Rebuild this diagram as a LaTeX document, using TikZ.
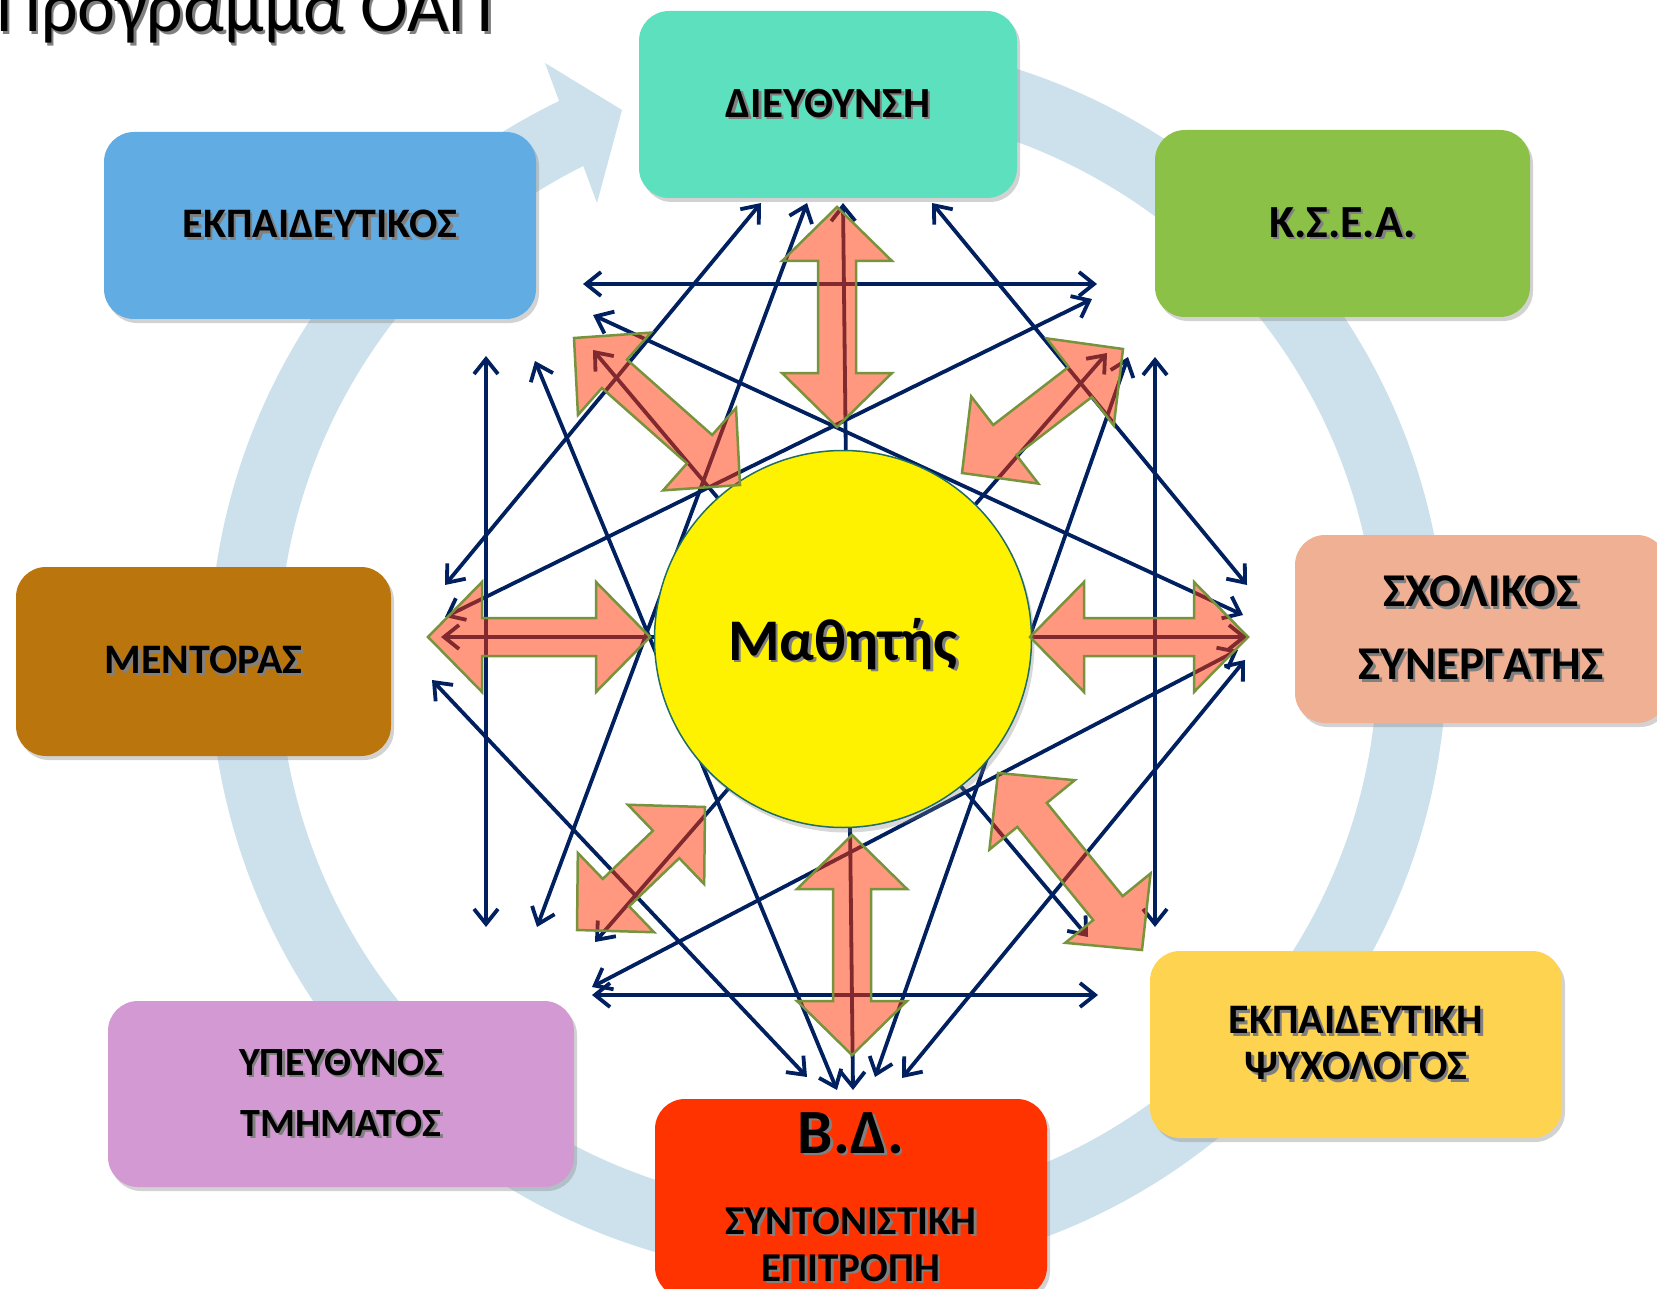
\documentclass[tikz,border=0pt]{standalone}
\usepackage{fontspec}
\setmainfont{Carlito}
\usetikzlibrary{calc,arrows.meta,shadows}
\definecolor{navy}{RGB}{0,32,96}
\definecolor{ringc}{RGB}{205,225,236}
\definecolor{salfill}{RGB}{255,50,0}
\definecolor{olivec}{RGB}{119,147,60}
\definecolor{circedge}{RGB}{30,110,100}
\definecolor{cDir}{RGB}{93,224,189}
\definecolor{cTeach}{RGB}{97,172,226}
\definecolor{cKsea}{RGB}{140,193,72}
\definecolor{cSchool}{RGB}{240,176,148}
\definecolor{cPsy}{RGB}{254,211,79}
\definecolor{cBD}{RGB}{255,51,0}
\definecolor{cResp}{RGB}{210,153,210}
\definecolor{cMent}{RGB}{186,117,12}
\newcommand\tsh[1]{\leavevmode\rlap{\kern2.5pt\raisebox{-2.5pt}{\color{black!50}#1}}#1}
\newcommand\dblarrow[2]{%
  \coordinate (ha) at ($(#1)!54pt!(#2)$);
  \coordinate (hb) at ($(#2)!54pt!(#1)$);
  \path[salarrow] (#1) -- ($(ha)!55pt!90:(#2)$) -- ($(ha)!19pt!90:(#2)$)
    -- ($(hb)!19pt!-90:(#1)$) -- ($(hb)!55pt!-90:(#1)$) -- (#2)
    -- ($(hb)!55pt!90:(#1)$) -- ($(hb)!19pt!90:(#1)$)
    -- ($(ha)!19pt!-90:(#2)$) -- ($(ha)!55pt!-90:(#2)$) -- cycle;}
\begin{document}
\begin{tikzpicture}[x=1pt,y=-1pt,
  box/.style={rectangle, rounded corners=30pt, inner sep=0pt, align=center,
    text=black, drop shadow={shadow xshift=3pt,shadow yshift=-4pt,opacity=0.35}},
  link/.style={draw=navy, line width=3.8pt,
    {Straight Barb[length=15pt,width=24pt]}-{Straight Barb[length=15pt,width=24pt]}},
  salarrow/.style={fill=salfill, fill opacity=0.5, draw=olivec, draw opacity=1,
    line width=2.5pt, line join=miter}]
\useasboundingbox (0,0) rectangle (1657,1289);
\fill[white] (0,0) rectangle (1657,1289);

% big circular arrow
\coordinate (rc) at (828,658);
\draw[ringc, line width=69pt] ([shift={(-100:584)}]rc) arc[start angle=-100, end angle=246, radius=584];
\coordinate (rh1) at (545,63);
\coordinate (rh2) at (622,110);
\coordinate (rh3) at (597,203);
\fill[ringc] (rh1) -- (rh2) -- (rh3) -- cycle;

% title
\node[anchor=base west, inner sep=0pt, font=\fontsize{72}{72}\selectfont] (title) at (-4,32) {\tsh{Πρόγραμμα ΟΑΠ}};

% boxes
\node[box, fill=cDir, minimum width=378pt, minimum height=187pt, font=\fontsize{43}{48}\selectfont\bfseries] (dir) at (828,104.5) {\tsh{ΔΙΕΥΘΥΝΣΗ}};
\node[box, fill=cTeach, minimum width=432pt, minimum height=187pt, font=\fontsize{42}{48}\selectfont\bfseries] (teach) at (320,225.5) {\tsh{ΕΚΠΑΙΔΕΥΤΙΚΟΣ}};
\node[box, fill=cKsea, minimum width=375pt, minimum height=187pt, font=\fontsize{46}{50}\selectfont\bfseries] (ksea) at (1342.5,223.5) {\tsh{Κ.Σ.Ε.Α.}};
\node[box, fill=cSchool, minimum width=372pt, minimum height=188pt, font=\fontsize{47}{73}\selectfont\bfseries] (school) at (1481,629) {\tsh{ΣΧΟΛΙΚΟΣ}\\\tsh{ΣΥΝΕΡΓΑΤΗΣ}};
\node[box, fill=cPsy, minimum width=412pt, minimum height=187pt, font=\fontsize{42}{46}\selectfont\bfseries] (psy) at (1356,1044.5) {\tsh{ΕΚΠΑΙΔΕΥΤΙΚΗ}\\\tsh{ΨΥΧΟΛΟΓΟΣ}};
\node[box, fill=cBD, minimum width=392pt, minimum height=198pt, font=\fontsize{41}{47}\selectfont\bfseries] (bd) at (851,1198) {{\fontsize{63}{63}\selectfont\tsh{Β.Δ.}}\\[34pt]\tsh{ΣΥΝΤΟΝΙΣΤΙΚΗ}\\\tsh{ΕΠΙΤΡΟΠΗ}};
\node[box, fill=cResp, minimum width=466pt, minimum height=186pt, font=\fontsize{40}{61}\selectfont\bfseries] (resp) at (341,1094) {\tsh{ΥΠΕΥΘΥΝΟΣ}\\\tsh{ΤΜΗΜΑΤΟΣ}};
\node[box, fill=cMent, minimum width=375pt, minimum height=189pt, font=\fontsize{42}{48}\selectfont\bfseries] (ment) at (203.5,661.5) {\tsh{ΜΕΝΤΟΡΑΣ}};

% link end points
\coordinate (ht1) at (583,284);  \coordinate (ht2) at (1097,284);
\coordinate (hb1) at (592,995);  \coordinate (hb2) at (1098,995);
\coordinate (vl1) at (486,356);  \coordinate (vl2) at (486,927);
\coordinate (vr1) at (1155,357); \coordinate (vr2) at (1155,927);
\coordinate (cv1) at (843,203);  \coordinate (cv2) at (853,1090);
\coordinate (ch1) at (441,637);  \coordinate (ch2) at (1247,637);
\coordinate (a1) at (445,617);   \coordinate (b1) at (1092,299);
\coordinate (a2) at (593,315);   \coordinate (b2) at (1243,615);
\coordinate (a3) at (932,203);   \coordinate (b3) at (1247,585);
\coordinate (a4) at (807,203);   \coordinate (b4) at (537,927);
\coordinate (a5) at (535,361);   \coordinate (b5) at (837,1090);
\coordinate (a6) at (432,680);   \coordinate (b6) at (807,1077);
\coordinate (a7) at (1107,353);  \coordinate (b7) at (595,942);
\coordinate (a8) at (1238,650);  \coordinate (b8) at (592,987);
\coordinate (a9) at (1245,660);  \coordinate (b9) at (902,1078);
\coordinate (a10) at (1128,357); \coordinate (b10) at (875,1077);
\coordinate (a11) at (593,350);  \coordinate (b11) at (1088,937);
\coordinate (a12) at (445,585);  \coordinate (b12) at (761,203);

\draw[link] (ht1) -- (ht2);
\draw[link] (hb1) -- (hb2);
\draw[link] (vl1) -- (vl2);
\draw[link] (vr1) -- (vr2);
\draw[link] (cv1) -- (cv2);
\draw[link] (ch1) -- (ch2);
\foreach \i in {1,...,12} { \draw[link] (a\i) -- (b\i); }

% student
\node[circle, minimum size=377pt, inner sep=0pt, fill=yellow, draw=circedge, line width=1.5pt,
  drop shadow={shadow xshift=3pt,shadow yshift=-5pt,opacity=0.3},
  font=\fontsize{59}{59}\selectfont\bfseries] (stu) at (843,639) {\smash{\raisebox{-21pt}{\tsh{Μαθητής}}}};

% salmon double arrows
\coordinate (s1a) at (837,207);  \coordinate (s1b) at (837,427);
\coordinate (s2a) at (852,835);  \coordinate (s2b) at (852,1055);
\coordinate (s3a) at (428,637);  \coordinate (s3b) at (650,637);
\coordinate (s4a) at (1030,637); \coordinate (s4b) at (1248,637);
\coordinate (s5a) at (574,338);  \coordinate (s5b) at (740,485);
\coordinate (s6a) at (1123,349); \coordinate (s6b) at (962,473);
\coordinate (s7a) at (705,807);  \coordinate (s7b) at (577,930);
\coordinate (s8a) at (998,773);  \coordinate (s8b) at (1142,950);
\dblarrow{s1a}{s1b}
\dblarrow{s2a}{s2b}
\dblarrow{s3a}{s3b}
\dblarrow{s4a}{s4b}
\dblarrow{s5a}{s5b}
\dblarrow{s6a}{s6b}
\dblarrow{s7a}{s7b}
\dblarrow{s8a}{s8b}
\end{tikzpicture}
\end{document}
